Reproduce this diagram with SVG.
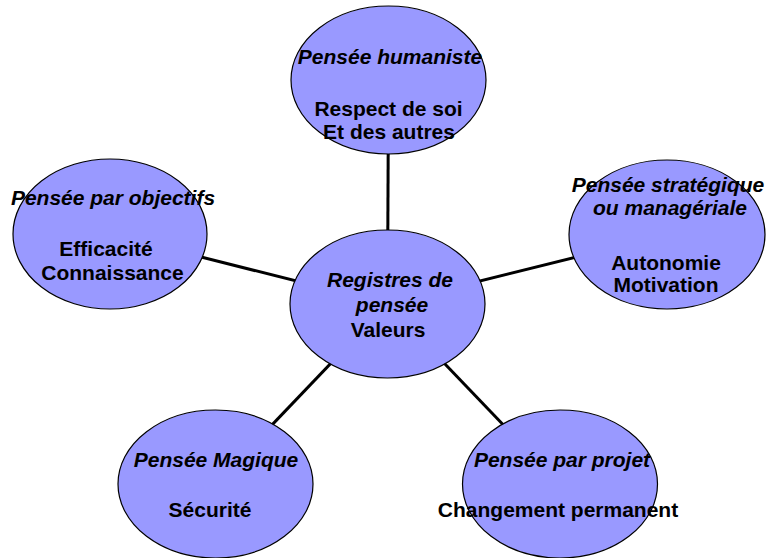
<svg xmlns="http://www.w3.org/2000/svg" width="766" height="558" viewBox="0 0 766 558">
<style>
.bg{fill:#ffffff}
.node{fill:#9999ff;stroke:#000000;stroke-width:1.2}
.link{stroke:#000000;stroke-width:3;fill:none}
text{font-family:"Liberation Sans",Arial,sans-serif;font-size:21px;font-weight:bold;fill:#000000;text-anchor:middle}
.t{font-style:italic}
</style>
<rect class="bg" x="0" y="0" width="766" height="558"/>
<g id="connectors">
<line class="link" x1="388.5" y1="80" x2="387.5" y2="304"/>
<line class="link" x1="110" y1="234" x2="387.5" y2="304"/>
<line class="link" x1="667" y1="234.5" x2="387.5" y2="304"/>
<line class="link" x1="215.5" y1="484" x2="387.5" y2="304"/>
<line class="link" x1="560" y1="484" x2="387.5" y2="304"/>
</g>
<g id="node-humaniste">
<ellipse class="node" cx="388.5" cy="80" rx="97.5" ry="74"/>
<text class="t" x="390" y="64">Pensée humaniste</text>
<text x="388.5" y="116">Respect de soi</text>
<text x="389" y="139">Et des autres</text>
</g>
<g id="node-objectifs">
<ellipse class="node" cx="110" cy="234" rx="97" ry="75"/>
<text class="t" x="113" y="205">Pensée par objectifs</text>
<text x="106" y="256">Efficacité</text>
<text x="112.5" y="280">Connaissance</text>
</g>
<g id="node-strategique">
<ellipse class="node" cx="667" cy="234.5" rx="98" ry="74.5"/>
<text class="t" x="668" y="192">Pensée stratégique</text>
<text class="t" x="670" y="215">ou managériale</text>
<text x="666" y="270">Autonomie</text>
<text x="666" y="292">Motivation</text>
</g>
<g id="node-centre">
<ellipse class="node" cx="387.5" cy="304" rx="97.5" ry="74"/>
<text class="t" x="390" y="287">Registres de</text>
<text class="t" x="392" y="312">pensée</text>
<text x="388" y="337">Valeurs</text>
</g>
<g id="node-magique">
<ellipse class="node" cx="215.5" cy="484" rx="97.5" ry="74"/>
<text class="t" x="216" y="467">Pensée Magique</text>
<text x="210" y="517">Sécurité</text>
</g>
<g id="node-projet">
<ellipse class="node" cx="560" cy="484" rx="97.5" ry="74"/>
<text class="t" x="562" y="467">Pensée par projet</text>
<text x="558" y="517">Changement permanent</text>
</g>
</svg>
